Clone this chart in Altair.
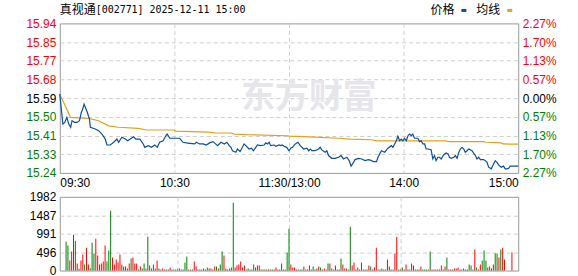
import json
import altair as alt
import pandas as pd

# ---------------- data ----------------
prev_close = 15.59
price_lo, price_hi = 15.236, 15.944
price_labels = ["15.24", "15.33", "15.41", "15.50", "15.59", "15.68", "15.77", "15.85", "15.94"]
pct_labels = ["2.27%", "1.70%", "1.13%", "0.57%", "0.00%", "0.57%", "1.13%", "1.70%", "2.27%"]
vol_max = 1982
vol_labels = ["0", "496", "991", "1487", "1982"]
time_ticks = [0, 60, 120, 180, 240]
time_labels = ["09:30", "10:30", "11:30/13:00", "14:00", "15:00"]

# minutes after 09:30 (trading minutes, 11:30 == 13:00 at 120)
price_time = [
    0, 1.6, 2.6, 3.7, 4.7, 5.7, 6.4, 7.8, 9, 10.3,
    11.3, 12, 12.7, 13.4, 14.4, 15.5, 16, 18.6, 20.3, 22.1,
    23.8, 24.7, 26.4, 28.2, 29.9, 30.8, 32.5, 34.3, 35.6, 36.9,
    38.6, 39.8, 41.9, 43.7, 44.5, 46.3, 48, 49.7, 51, 52.3,
    54.1, 55.5, 56.2, 57.6, 60.2, 62.8, 64.5, 66.3, 68, 70.6,
    71.5, 73.2, 75, 76.7, 78.4, 80.2, 81, 82.6, 84.4, 86.1,
    87.5, 88.7, 89.6, 90.4, 92.2, 93, 94.4, 95.6, 96.5, 97.4,
    99.1, 100.3, 101.4, 102.6, 103.5, 105.2, 107, 107.8, 108.7, 109.6,
    110.4, 112.2, 113.1, 114.8, 115.7, 116.5, 117.4, 118.8, 120, 120.9,
    121.8, 123.3, 124.7, 125.9, 127.7, 129.4, 130.3, 131.1, 132, 133.7,
    135.5, 136.3, 137.2, 138.9, 139.8, 140.7, 142.4, 144.2, 145.9, 147.3,
    148.5, 150.3, 151.5, 152.5, 153.8, 154.6, 156.4, 158.1, 159.8, 161.6,
    163.3, 164, 165.8, 166.6, 167.5, 168.4, 170.1, 171.8, 173.6, 174.4,
    175.3, 176.2, 177, 177.9, 178.8, 179.6, 180.5, 181.4, 182.3, 183.1,
    184, 184.8, 185.7, 187.5, 188.3, 189.2, 190.1, 191, 191.8, 192.7,
    194.4, 195.3, 196.2, 197, 197.9, 198.8, 199.7, 200.9, 202.3, 203.3,
    204, 205, 206.3, 207.1, 208, 208.9, 209.7, 210.6, 211.5, 212.3,
    213.2, 214.1, 215.8, 217.6, 218.4, 219.3, 220.2, 221.9, 222.8, 223.7,
    224.5, 225.9, 227.1, 228, 228.9, 229.7, 231.1, 232.3, 233.2, 234.1,
    235, 235.8, 237.6, 240,
]
price_value = [
    15.609, 15.467, 15.475, 15.499, 15.467, 15.452, 15.483, 15.475, 15.475, 15.483,
    15.523, 15.538, 15.562, 15.546, 15.523, 15.491, 15.452, 15.444, 15.436, 15.420,
    15.396, 15.368, 15.368, 15.381, 15.396, 15.381, 15.405, 15.396, 15.388, 15.396,
    15.407, 15.396, 15.396, 15.373, 15.357, 15.365, 15.357, 15.368, 15.357, 15.381,
    15.388, 15.412, 15.420, 15.400, 15.400, 15.400, 15.381, 15.378, 15.376, 15.373,
    15.381, 15.373, 15.373, 15.368, 15.378, 15.384, 15.378, 15.365, 15.381, 15.373,
    15.381, 15.365, 15.357, 15.341, 15.334, 15.349, 15.337, 15.357, 15.373, 15.365,
    15.349, 15.353, 15.341, 15.357, 15.368, 15.365, 15.368, 15.378, 15.373, 15.381,
    15.365, 15.368, 15.362, 15.368, 15.365, 15.368, 15.362, 15.357, 15.341, 15.353,
    15.357, 15.373, 15.381, 15.365, 15.349, 15.353, 15.341, 15.349, 15.341, 15.341,
    15.349, 15.357, 15.345, 15.334, 15.341, 15.318, 15.305, 15.305, 15.310, 15.318,
    15.302, 15.310, 15.294, 15.268, 15.286, 15.299, 15.305, 15.302, 15.294, 15.299,
    15.294, 15.289, 15.289, 15.310, 15.326, 15.341, 15.334, 15.353, 15.365, 15.357,
    15.373, 15.388, 15.409, 15.388, 15.396, 15.388, 15.400, 15.388, 15.412, 15.420,
    15.412, 15.420, 15.400, 15.400, 15.384, 15.388, 15.373, 15.373, 15.349, 15.349,
    15.346, 15.302, 15.318, 15.294, 15.310, 15.310, 15.302, 15.321, 15.330, 15.326,
    15.310, 15.305, 15.310, 15.318, 15.305, 15.334, 15.349, 15.357, 15.349, 15.334,
    15.341, 15.349, 15.341, 15.318, 15.302, 15.310, 15.299, 15.299, 15.294, 15.286,
    15.263, 15.255, 15.278, 15.294, 15.286, 15.274, 15.263, 15.268, 15.255, 15.255,
    15.258, 15.268, 15.268, 15.268,
]
avg_time = [0, 3, 5.6, 15.1, 20.3, 25.6, 30.8, 41.2, 45.4, 59.5,
            61, 77.7, 81.9, 89.7, 91.3, 98, 119, 120, 130.4, 146,
            152, 163.3, 166, 202, 203.5, 222, 223, 231, 232, 240]
avg_value = [15.609, 15.55, 15.499, 15.494, 15.483, 15.459, 15.452, 15.447, 15.439, 15.439,
             15.434, 15.429, 15.425, 15.425, 15.420, 15.417, 15.412, 15.410, 15.407, 15.400,
             15.396, 15.393, 15.388, 15.388, 15.384, 15.384, 15.381, 15.378, 15.373, 15.372]

# one volume bar per minute, 0..240
volume = [
    777, 670, 268, 509, 964, 804, 188, 45, 268, 429,
    160, 616, 160, 60, 750, 455, 857, 402, 160, 188,
    241, 670, 241, 536, 1607, 348, 160, 295, 214, 429,
    160, 107, 107, 54, 188, 321, 348, 188, 188, 27,
    107, 54, 188, 54, 911, 134, 54, 160, 54, 268,
    54, 27, 54, 27, 27, 27, 80, 27, 27, 27,
    27, 54, 27, 27, 214, 375, 27, 27, 27, 241,
    107, 27, 27, 27, 54, 27, 80, 54, 54, 27,
    107, 107, 54, 160, 509, 402, 54, 27, 54, 80,
    1822, 80, 134, 160, 241, 80, 134, 27, 54, 27,
    27, 160, 80, 134, 134, 27, 27, 27, 27, 27,
    27, 27, 27, 80, 27, 27, 188, 27, 27, 482,
    1125,
    160, 80, 80, 27, 27, 27, 27, 107, 27, 27,
    134, 27, 107, 27, 54, 107, 80, 27, 54, 27,
    188, 188, 54, 27, 134, 27, 27, 321, 160, 54,
    54, 27, 1179, 134, 214, 27, 80, 27, 214, 27,
    27, 27, 134, 107, 27, 80, 616, 27, 27, 54,
    27, 27, 295, 107, 27, 27, 455, 911, 27, 27,
    80, 27, 160, 27, 27, 188, 134, 27, 27, 27,
    107, 27, 27, 27, 27, 509, 27, 27, 27, 27,
    27, 134, 27, 107, 348, 27, 27, 27, 54, 54,
    80, 27, 27, 54, 27, 27, 160, 134, 27, 563,
    80, 27, 160, 268, 536, 268, 80, 107, 54, 160,
    455, 455, 348, 563, 616, 295, 0, 0, 0, 482,
]
# R = up minute (red), G = down minute (green)
vol_dir = (
    "GGRRGGRGRR" "GRRGGGRRGR" "RRGGGRRRRR" "GRRGRGRRRG" "RGGRGRRGRR" "GRRRGRRGRG"
    "RGRGGGRGRR" "RGRGRGGGRR" "RGRGGRGRGR" "GRRRRRRGGR" "GGRRRGRGRG" "RGRRRGGRRG"
    "G"
    "RRRRGGGRGR" "GRGRGRGRRR" "GRRGRRRGRR" "RGGRRRRRGG" "RGRGRRRRGG" "RGRRGGRRGR"
    "GRRGRRGRGR" "RGGGRGRRRG" "GRRRGRRGRR" "RRGGRRGGGR" "GRRGGGRRGR" "GGRGRRGGGR"
)
assert len(price_time) == len(price_value)
assert len(avg_time) == len(avg_value)
assert len(volume) == 241 and len(vol_dir) == 241

title_name = "真视通"
title_rest = "[002771] 2025-12-11 15:00"
legend_price = "价格"
legend_avg = "均线"
watermark = "东方财富"

# ---------------- styling ----------------
FONT = "Liberation Sans"
CJK = "Noto Sans CJK SC"
MONO = "DejaVu Sans Mono"
RED = "#ff0000"
GREEN = "#008000"
BLUE = "#0b4f9e"
GOLD = "#e0a11b"
GRID = "#cfcfcf"
W, H1, H2 = 460, 150, 74

step = (price_hi - price_lo) / 8
price_ticks = [price_lo + i * step for i in range(9)]
vol_ticks = [i * vol_max / 4 for i in range(5)]


def edge_hidden(lo, hi):
    return {"condition": {"test": f"datum.value <= {lo} || datum.value >= {hi}",
                          "value": "transparent"},
            "value": GRID}


label_color = {"condition": [
    {"test": f"datum.value > {prev_close + step / 2}", "value": RED},
    {"test": f"datum.value < {prev_close - step / 2}", "value": GREEN}],
    "value": "black"}

x_scale = alt.Scale(domain=[0, 240], nice=False, zero=False)
p_scale = alt.Scale(domain=[price_lo, price_hi], nice=False, zero=False)

x_axis_top = alt.Axis(values=time_ticks,
                      labelExpr=f"{json.dumps(time_labels)}[round(datum.value / 60)]",
                      labelFlush=True, grid=True, gridColor=edge_hidden(0.01, 239.99),
                      gridDash=[4, 3], ticks=False, domain=False, labelPadding=5,
                      labelFont=FONT, labelFontSize=12, labelColor="black", title=None)
y_left = alt.Axis(values=price_ticks,
                  labelExpr=f"{json.dumps(price_labels)}[round((datum.value - {price_lo}) / {step})]",
                  labelColor=label_color, grid=True,
                  gridColor=edge_hidden(price_lo + 0.001, price_hi - 0.001),
                  gridDash=[4, 3], ticks=False, domain=False, labelPadding=4,
                  labelFont=FONT, labelFontSize=12, title=None)
y_right = alt.Axis(orient="right", values=price_ticks,
                   labelExpr=f"{json.dumps(pct_labels)}[round((datum.value - {price_lo}) / {step})]",
                   labelColor=label_color, grid=False, ticks=False, domain=False,
                   labelPadding=4, labelFont=FONT, labelFontSize=12, title=None)

dfp = pd.DataFrame({"t": price_time, "p": price_value})
dfa = pd.DataFrame({"t": avg_time, "p": avg_value})
dfv = pd.DataFrame({"t": list(range(241)), "v": volume, "d": list(vol_dir)})


def label(s, x, y, font, size, color="black", align="left", weight="normal"):
    return alt.Chart(pd.DataFrame({"s": [s]})).mark_text(
        align=align, baseline="middle", font=font, fontSize=size, color=color,
        fontWeight=weight).encode(x=alt.value(x), y=alt.value(y), text="s:N")


def swatch(color, x, x2, y, y2):
    return alt.Chart(pd.DataFrame({"s": [0]})).mark_rect(color=color).encode(
        x=alt.value(x), x2=alt.value(x2), y=alt.value(y), y2=alt.value(y2))


# invisible frame so the page layout puts the plot at (59, 22)
frame = alt.Chart(pd.DataFrame({"s": [0]})).mark_rect(opacity=0).encode(
    x=alt.value(-59), x2=alt.value(519), y=alt.value(-22), y2=alt.value(254))

wm = label(watermark, 250, 75, CJK, 34, color="#e6e6ea", align="center", weight="bold")

avg_line = alt.Chart(dfa).mark_line(color=GOLD, strokeWidth=1.2).encode(
    x=alt.X("t:Q", scale=x_scale, axis=x_axis_top),
    y=alt.Y("p:Q", scale=p_scale, axis=y_right))
price_line = alt.Chart(dfp).mark_line(color=BLUE, strokeWidth=1.2).encode(
    x=alt.X("t:Q", scale=x_scale, axis=x_axis_top),
    y=alt.Y("p:Q", scale=p_scale, axis=y_left))

top = alt.layer(
    frame, wm, avg_line, price_line,
    label(title_name, 0, -13, CJK, 12),
    label(title_rest, 36, -13, MONO, 10),
    label(legend_price, 372, -13, CJK, 12),
    swatch(BLUE, 403, 408, -14.5, -11.5),
    label(legend_avg, 418, -13, CJK, 12),
    swatch(GOLD, 449, 454, -14.5, -11.5),
).resolve_scale(y="independent").properties(width=W, height=H1)

bars = alt.Chart(dfv).mark_bar(size=1).encode(
    x=alt.X("t:Q", scale=alt.Scale(domain=[-0.7, 240.7], nice=False, zero=False),
            axis=alt.Axis(values=time_ticks, labels=False, grid=True,
                          gridColor=edge_hidden(0.01, 239.99), gridDash=[4, 3],
                          ticks=False, domain=False, title=None)),
    y=alt.Y("v:Q", scale=alt.Scale(domain=[0, vol_max], nice=False),
            axis=alt.Axis(values=vol_ticks,
                          labelExpr=f"{json.dumps(vol_labels)}[round(datum.value / {vol_max / 4})]",
                          grid=True, gridColor=edge_hidden(1, vol_max - 1), gridDash=[4, 3],
                          ticks=False, domain=False, labelPadding=4, labelFont=FONT,
                          labelFontSize=12, labelColor="black", title=None)),
    color=alt.Color("d:N", scale=alt.Scale(domain=["R", "G"], range=[RED, GREEN]), legend=None),
).properties(width=W, height=H2)

chart = alt.vconcat(top, bars, spacing=24, bounds="flush").properties(
    padding=0, background="white"
).configure_view(stroke="#999999", strokeWidth=1)

chart.save("out.html", embed_options={"renderer": "svg", "actions": False})
